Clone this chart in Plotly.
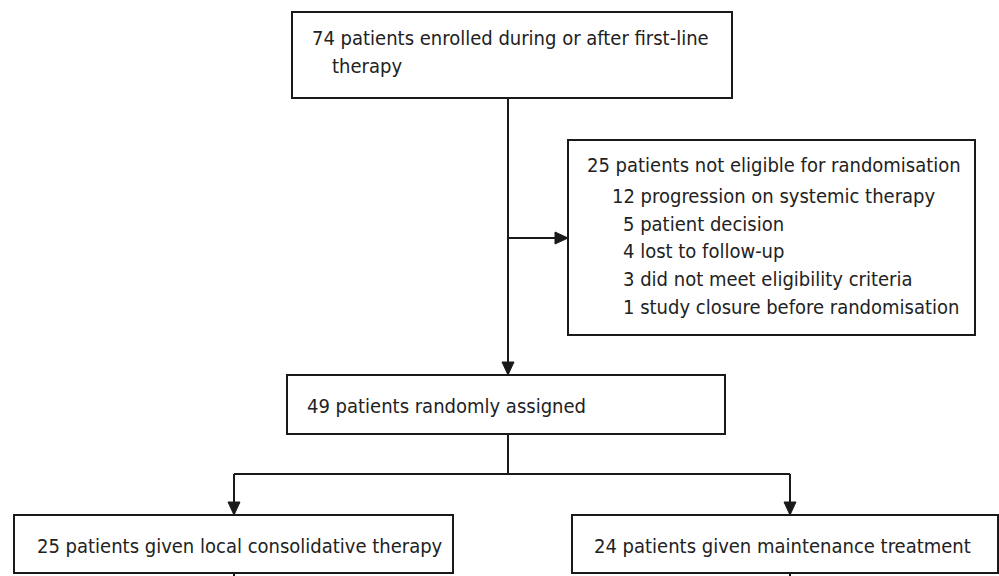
import plotly.graph_objects as go

# ---- content (data) ----
enrolled_label = ["74 patients enrolled during or after first-line", "therapy"]
excluded_label = [
    "25 patients not eligible for randomisation",
    "12 progression on systemic therapy",
    "5 patient decision",
    "4 lost to follow-up",
    "3 did not meet eligibility criteria",
    "1 study closure before randomisation",
]
randomised_label = ["49 patients randomly assigned"]
arm_labels = ["25 patients given local consolidative therapy",
              "24 patients given maintenance treatment"]

# ---- layout geometry (pixel-like coordinate system, y down) ----
W, H = 999, 576
boxes = [
    (292, 12, 732, 98),
    (568, 140, 975, 335),
    (287, 375, 725, 434),
    (14, 515, 453, 573),
    (572, 515, 998, 573),
]
text_items = [
    (310, 38, enrolled_label[0]),
    (330, 66, enrolled_label[1]),
    (585, 165, excluded_label[0]),
    (610, 196, excluded_label[1]),
    (621, 224, excluded_label[2]),
    (621, 251, excluded_label[3]),
    (621, 279, excluded_label[4]),
    (621, 307, excluded_label[5]),
    (305, 406, randomised_label[0]),
    (35, 546, arm_labels[0]),
    (592, 546, arm_labels[1]),
]
segments = [
    (508, 98, 508, 375),
    (508, 238, 568, 238),
    (508, 434, 508, 474),
    (234, 474, 790, 474),
    (234, 474, 234, 515),
    (790, 474, 790, 515),
    (234, 573, 234, 576),
    (790, 573, 790, 576),
]
# arrow tips: (x, y, direction)
arrows = [
    (508, 375, "down"),
    (568, 238, "right"),
    (234, 515, "down"),
    (790, 515, "down"),
]

FONT = "Liberation Sans Narrow, DejaVu Sans Condensed, DejaVu Sans, sans-serif"
LW = 2
COL = "#1a1a1a"

fig = go.Figure()
fig.add_trace(go.Scatter(x=[0, W], y=[0, H], mode="markers",
                         marker=dict(opacity=0), hoverinfo="skip", showlegend=False))

shapes = []
for x0, y0, x1, y1 in boxes:
    shapes.append(dict(type="rect", xref="x", yref="y", x0=x0, y0=y0, x1=x1, y1=y1,
                       line=dict(color=COL, width=LW), fillcolor="rgba(0,0,0,0)"))
for x0, y0, x1, y1 in segments:
    shapes.append(dict(type="line", xref="x", yref="y", x0=x0, y0=y0, x1=x1, y1=y1,
                       line=dict(color=COL, width=LW)))
L, Wd = 13, 6
for x, y, d in arrows:
    if d == "down":
        path = f"M {x} {y} L {x-Wd} {y-L} L {x+Wd} {y-L} Z"
    else:
        path = f"M {x} {y} L {x-L} {y-Wd} L {x-L} {y+Wd} Z"
    shapes.append(dict(type="path", xref="x", yref="y", path=path,
                       fillcolor=COL, line=dict(color=COL, width=1)))

annotations = []
for x, y, t in text_items:
    annotations.append(dict(x=x, y=y, xref="x", yref="y", text=t, showarrow=False,
                            xanchor="left", yanchor="middle",
                            font=dict(family=FONT, size=20, color="#222222")))

fig.update_layout(
    width=W, height=H,
    margin=dict(l=0, r=0, t=0, b=0),
    paper_bgcolor="white", plot_bgcolor="white",
    xaxis=dict(range=[0, W], visible=False, fixedrange=True),
    yaxis=dict(range=[H, 0], visible=False, fixedrange=True),
    shapes=shapes, annotations=annotations, showlegend=False,
)
fig.write_html("out.html", config=dict(displayModeBar=False),
               post_script="document.body.style.margin='0';document.body.style.overflow='hidden';")
